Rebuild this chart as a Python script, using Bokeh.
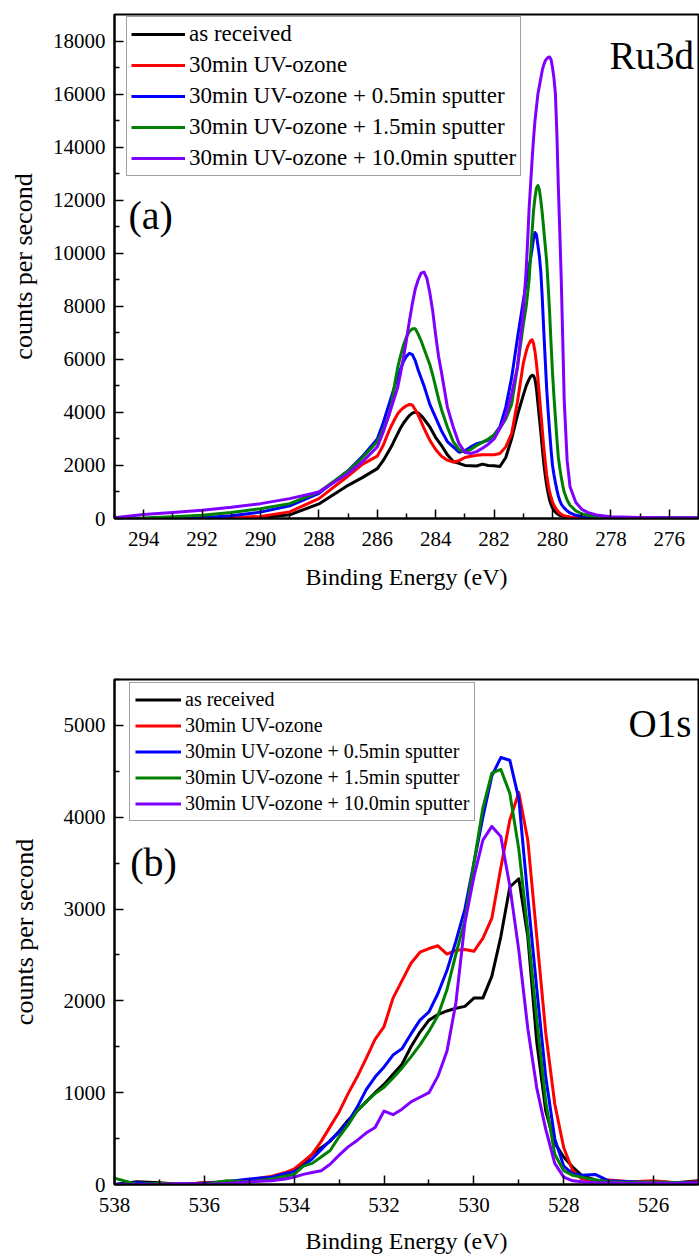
from bokeh.plotting import figure
from bokeh.models import Range1d, FixedTicker, Label, NumeralTickFormatter
from bokeh.layouts import column
from bokeh.embed import file_html
from bokeh.resources import INLINE

# ---------------- data ----------------
series_names = [
    "as received",
    "30min UV-ozone",
    "30min UV-ozone + 0.5min sputter",
    "30min UV-ozone + 1.5min sputter",
    "30min UV-ozone + 10.0min sputter",
]
series_colors = ["#000000", "#ff0000", "#0000ff", "#008000", "#8000ff"]

# Ru3d panel (a)
ru_energy = [295, 294, 293, 292, 291, 290, 289, 288, 287, 286.5, 286,
             285.8,
             285.6, 285.5, 285.4, 285.3, 285.2, 285.1, 285.0, 284.9, 284.8, 284.7,
             284.6, 284.5, 284.4, 284.3, 284.2, 284.1, 284.0, 283.9, 283.8,
             283.6, 283.4, 283.2, 283.0, 282.8, 282.6, 282.4, 282.2, 282.0,
             281.8, 281.6, 281.4, 281.2, 281.0,
             280.9, 280.85, 280.8, 280.75, 280.7, 280.65, 280.6, 280.55, 280.5,
             280.45, 280.4, 280.35, 280.3, 280.25, 280.2, 280.15, 280.1, 280.05,
             280.0, 279.95, 279.9, 279.85, 279.8, 279.75, 279.7, 279.65, 279.6,
             279.5, 279.4, 279.2, 279.0, 278.8, 278.5, 278, 277, 276, 275]
ru_as_received = [0, 0, 0, 5, 10, 30, 140, 550, 1250, 1550, 1880,
                  2180,
                  2550, 2750, 2980, 3200, 3420, 3600, 3750, 3880, 3970, 4010,
                  3980, 3880, 3750, 3600, 3450, 3250, 3050, 2900, 2750,
                  2400, 2150, 2080, 2000, 1990, 1980, 2050, 2000, 1990,
                  1960, 2300, 3000, 3900, 4650,
                  5000, 5130, 5250, 5350, 5400, 5380, 5250, 4900, 4350,
                  3800, 3250, 2650, 2100, 1650, 1250, 950, 700, 530,
                  400, 310, 240, 190, 150, 120, 100, 90, 80,
                  60, 50, 40, 30, 25, 20, 15, 10, 10, 10]
ru_uv_ozone = [0, 0, 0, 5, 20, 80, 250, 750, 1600, 2050, 2350,
               2750,
               3300, 3530, 3750, 3950, 4080, 4180, 4250, 4300, 4280, 4100,
               3900, 3650, 3400, 3170, 2950, 2770, 2600, 2470, 2350,
               2200, 2130, 2180, 2300, 2350, 2380, 2400, 2400, 2400,
               2450, 2700, 3200, 4400, 5850,
               6300, 6480, 6600, 6700, 6740, 6600, 6300, 5850, 5300,
               4650, 4000, 3350, 2700, 2150, 1650, 1300, 1000, 800,
               620, 500, 400, 320, 250, 200, 160, 130, 110,
               80, 60, 40, 30, 25, 20, 15, 10, 10, 10]
ru_sputter_05 = [0, 0, 10, 30, 100, 240, 480, 950, 1800, 2350, 3000,
                 3600,
                 4300, 4650, 5000, 5350, 5650, 5930, 6120, 6230, 6180, 5950,
                 5600, 5300, 5000, 4650, 4300, 4050, 3800, 3550, 3300,
                 2900, 2700, 2500, 2550, 2700, 2820, 2880, 2960, 3150,
                 3450, 4200, 5300, 6800, 8200,
                 8900, 9200, 9500, 9800, 10150, 10550, 10780, 10700, 10300,
                 9900, 9300, 8300, 7100, 6000, 4900, 4050, 3300, 2600,
                 2000, 1650, 1350, 1080, 850, 680, 550, 460, 400,
                 290, 210, 120, 80, 60, 40, 25, 15, 10, 10]
ru_sputter_15 = [0, 20, 70, 120, 230, 370, 560, 1000, 1780, 2300, 2900,
                 3350,
                 3900, 4400, 5100, 5700, 6150, 6550, 6850, 7050, 7150, 7150,
                 6950, 6700, 6400, 6100, 5800, 5400, 4950, 4500, 4100,
                 3450, 2900, 2600, 2500, 2600, 2750, 2870, 3000, 3150,
                 3400, 3750, 4300, 5700, 7300,
                 8000, 8500, 9000, 9900, 10800, 11600, 12100, 12450, 12550,
                 12400, 12000, 11500, 10900, 10300, 9700, 8800, 7800, 6600,
                 5500, 4600, 3800, 3000, 2300, 1900, 1550, 1250, 1000,
                 700, 500, 290, 180, 120, 70, 40, 20, 15, 10]
ru_sputter_100 = [30, 150, 230, 310, 420, 560, 750, 1000, 1700, 2150, 2700,
                  3250,
                  3900, 4250, 4600, 4950, 5500, 6100, 6750, 7450, 8100, 8650,
                  9000, 9250, 9290, 9050, 8500, 7800, 6900, 6100, 5500,
                  4200, 3450, 2820, 2500, 2450, 2520, 2650, 2800, 3000,
                  3400, 3850, 4700, 5700, 7800,
                  9400, 10500, 11700, 12600, 13500, 14300, 15000, 15500, 16000,
                  16300, 16600, 16900, 17100, 17250, 17330, 17380, 17400, 17300,
                  17000, 16600, 16000, 14500, 12500, 10800, 9000, 6800, 4500,
                  2200, 1200, 600, 350, 230, 130, 70, 40, 30, 30]

ru_xticks = [294, 292, 290, 288, 286, 284, 282, 280, 278, 276]
ru_xminor = [295, 293, 291, 289, 287, 285, 283, 281, 279, 277, 275]
ru_yticks = [0, 2000, 4000, 6000, 8000, 10000, 12000, 14000, 16000, 18000]
ru_yminor = [1000, 3000, 5000, 7000, 9000, 11000, 13000, 15000, 17000]

# O1s panel (b)
o_energy = [538, 537.5, 537, 536.5, 536, 535.5, 535, 534.5, 534.2, 534.0,
            533.8, 533.6, 533.4, 533.2, 533.0, 532.8, 532.6, 532.4, 532.2, 532.0,
            531.8, 531.6, 531.4, 531.2, 531.0, 530.8, 530.6, 530.4, 530.2, 530.0,
            529.8, 529.6, 529.4, 529.2, 529.0, 528.8, 528.6, 528.4, 528.2, 528.0,
            527.8, 527.6, 527.3, 527, 526.5, 526, 525.5, 525]
o_as_received = [0, 30, 20, 0, 20, 30, 50, 80, 110, 150,
                 230, 330, 400, 470, 580, 700, 800, 900, 1000, 1090,
                 1200, 1310, 1500, 1660, 1790, 1850, 1890, 1920, 1940, 2030,
                 2030, 2270, 2700, 3240, 3330, 2700, 1550, 800, 450, 300,
                 190, 100, 50, 30, 20, 30, 20, 40]
o_uv_ozone = [0, 0, 10, 0, 20, 20, 50, 90, 130, 170,
              250, 330, 470, 630, 790, 990, 1170, 1370, 1580, 1720,
              2030, 2220, 2410, 2530, 2570, 2600, 2510, 2550, 2560, 2540,
              2680, 2900, 3450, 3970, 4270, 3750, 2700, 1650, 880, 400,
              150, 60, 40, 50, 30, 40, 20, 30]
o_sputter_05 = [0, 20, 0, 0, 10, 30, 60, 80, 120, 140,
                200, 280, 380, 480, 570, 680, 840, 1030, 1170, 1280,
                1410, 1480, 1640, 1790, 1880, 2080, 2330, 2650, 3000, 3500,
                4000, 4450, 4650, 4620, 4200, 3130, 2130, 1170, 500, 200,
                116, 100, 110, 40, 30, 20, 20, 20]
o_sputter_15 = [70, 0, 10, 0, 0, 40, 30, 60, 90, 110,
                200, 230, 300, 370, 520, 650, 800, 900, 990, 1060,
                1160, 1270, 1390, 1520, 1670, 1840, 2120, 2510, 2880, 3500,
                4100, 4480, 4520, 4260, 3650, 2770, 1800, 900, 330, 150,
                100, 80, 50, 30, 20, 30, 20, 10]
o_sputter_100 = [0, 0, 0, 10, 0, 10, 30, 40, 60, 80,
                 110, 130, 150, 220, 320, 410, 480, 560, 620, 800,
                 760, 820, 900, 950, 1000, 1180, 1450, 1980, 2850, 3350,
                 3750, 3900, 3790, 3250, 2550, 1700, 1050, 600, 230, 80,
                 40, 30, 20, 20, 10, 20, 10, 20]

o_xticks = [538, 536, 534, 532, 530, 528, 526]
o_xminor = [537, 535, 533, 531, 529, 527, 525]
o_yticks = [0, 1000, 2000, 3000, 4000, 5000]
o_yminor = [500, 1500, 2500, 3500, 4500, 5500]

SERIF = "Liberation Serif"


def make_panel(energy, ys, x_range, y_range, xticks, xminor, yticks, yminor,
               height, b_top, b_bottom, ylab_standoff, legend_font, legend_row,
               legend_spacing, legend_padding, legend_glyph_w, legend_loc,
               tag, tag_pos, name, name_pos, xtick_standoff, xlab_standoff):
    p = figure(width=699, height=height, output_backend="svg",
               toolbar_location=None,
               x_range=Range1d(*x_range), y_range=Range1d(*y_range),
               min_border_left=114, min_border_right=1,
               min_border_top=b_top, min_border_bottom=b_bottom)
    p.background_fill_color = "white"
    p.border_fill_color = "white"
    p.grid.visible = False
    p.outline_line_color = "black"
    p.outline_line_width = 2
    p.outline_line_alpha = 1

    for yv, nm, col in zip(ys, series_names, series_colors):
        p.line(energy, yv, line_color=col, line_width=3, line_join="round",
               legend_label=nm)

    p.xaxis.ticker = FixedTicker(ticks=xticks, minor_ticks=xminor)
    p.yaxis.ticker = FixedTicker(ticks=yticks, minor_ticks=yminor)
    p.yaxis.formatter = NumeralTickFormatter(format="0")
    p.xaxis.axis_label = "Binding Energy (eV)"
    p.yaxis.axis_label = "counts per second"
    for ax in (p.xaxis, p.yaxis):
        ax.axis_line_color = "black"
        ax.axis_line_width = 2
        ax.major_tick_line_color = "black"
        ax.minor_tick_line_color = "black"
        ax.major_tick_line_width = 1.5
        ax.minor_tick_line_width = 1.5
        ax.major_tick_in = 9
        ax.major_tick_out = 0
        ax.minor_tick_in = 5
        ax.minor_tick_out = 0
        ax.major_label_text_font = SERIF
        ax.major_label_text_font_size = "21px"
        ax.major_label_text_color = "black"
        ax.axis_label_text_font = SERIF
        ax.axis_label_text_font_style = "normal"
        ax.axis_label_text_color = "black"
    p.xaxis.axis_label_text_font_size = "24px"
    p.yaxis.axis_label_text_font_size = "26px"
    p.xaxis.major_label_standoff = xtick_standoff
    p.yaxis.major_label_standoff = 9
    p.xaxis.axis_label_standoff = xlab_standoff
    p.yaxis.axis_label_standoff = ylab_standoff

    lg = p.legend[0]
    lg.location = legend_loc
    lg.label_text_font = SERIF
    lg.label_text_font_size = legend_font
    lg.label_text_color = "black"
    lg.label_height = legend_row
    lg.glyph_height = legend_row
    lg.glyph_width = legend_glyph_w
    lg.label_standoff = 4
    lg.spacing = legend_spacing
    lg.padding = legend_padding
    lg.margin = 0
    lg.border_line_color = "#444444"
    lg.border_line_width = 1
    lg.background_fill_color = "white"
    lg.background_fill_alpha = 1

    p.add_layout(Label(x=tag_pos[0], y=tag_pos[1], text=tag,
                       text_font=SERIF, text_font_size="40px",
                       text_color="black", text_align="left",
                       text_baseline="alphabetic"))
    p.add_layout(Label(x=name_pos[0], y=name_pos[1], text=name,
                       text_font=SERIF, text_font_size="39px",
                       text_color="black", text_align="right",
                       text_baseline="alphabetic"))
    return p


p1 = make_panel(ru_energy,
                [ru_as_received, ru_uv_ozone, ru_sputter_05, ru_sputter_15, ru_sputter_100],
                (295, 275), (0, 19000), ru_xticks, ru_xminor, ru_yticks, ru_yminor,
                height=610, b_top=14, b_bottom=92, ylab_standoff=12,
                legend_font="23px", legend_row=26, legend_spacing=5,
                legend_padding=4, legend_glyph_w=54, legend_loc=(12, 342),
                tag="(a)", tag_pos=(294.52, 11430),
                name="Ru3d", name_pos=(275.15, 17470),
                xtick_standoff=13, xlab_standoff=15)

p2 = make_panel(o_energy,
                [o_as_received, o_uv_ozone, o_sputter_05, o_sputter_15, o_sputter_100],
                (538, 525), (0, 5500), o_xticks, o_xminor, o_yticks, o_yminor,
                height=648, b_top=69, b_bottom=74, ylab_standoff=22,
                legend_font="20px", legend_row=23, legend_spacing=3,
                legend_padding=5, legend_glyph_w=46, legend_loc=(15, 363),
                tag="(b)", tag_pos=(537.65, 3510),
                name="O1s", name_pos=(525.16, 5016),
                xtick_standoff=13, xlab_standoff=13)

layout = column(p1, p2, spacing=0)
open("out.html", "w").write(file_html(layout, INLINE))
